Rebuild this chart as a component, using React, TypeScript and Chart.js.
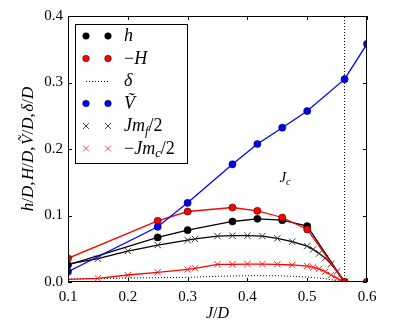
import React, { useEffect, useRef } from "react";
import { Chart, registerables } from "chart.js";

Chart.register(...registerables);

// ---- data ----
const X_TICKS = [0.1, 0.2, 0.3, 0.4, 0.5, 0.6];
const Y_TICKS = [0.0, 0.1, 0.2, 0.3, 0.4];

const J_DOT = [0.1, 0.25, 0.3, 0.375, 0.4167, 0.4583, 0.5, 0.5625, 0.6];
const H_SMALL = [0.0256, 0.067, 0.078, 0.091, 0.095, 0.093, 0.084, 0, 0];
const H_MINUS = [0.0356, 0.092, 0.106, 0.112, 0.107, 0.097, 0.079, 0, 0];
const V_TILDE = [0.0155, 0.083, 0.119, 0.177, 0.2075, 0.232, 0.257, 0.305, 0.358];

const J_M = [0.1, 0.15, 0.2, 0.25, 0.3, 0.3125, 0.35, 0.375, 0.4, 0.425, 0.45, 0.475, 0.5, 0.51, 0.52, 0.53, 0.54, 0.55, 0.5625, 0.6];
const JM_F = [0.027, 0.035, 0.0466, 0.0556, 0.063, 0.0647, 0.069, 0.0696, 0.0696, 0.069, 0.0657, 0.0606, 0.054, 0.049, 0.043, 0.036, 0.027, 0.016, 0, 0];
const JM_C = [0.004, 0.0055, 0.0105, 0.0146, 0.019, 0.0206, 0.0266, 0.0266, 0.027, 0.027, 0.0266, 0.0256, 0.024, 0.022, 0.0196, 0.0155, 0.0105, 0.0055, 0, 0];

const J_DELTA = [0.1, 0.15, 0.2, 0.25, 0.3, 0.35, 0.4, 0.45, 0.5, 0.53, 0.5625, 0.6];
const DELTA = [0.0045, 0.005, 0.006, 0.0065, 0.007, 0.0085, 0.0095, 0.0095, 0.0075, 0.005, 0, 0];

const JC = 0.5625;
const JC_LABEL_AT = [0.463, 0.158];

const FAMILY = '"Liberation Serif", "DejaVu Serif", serif';

type Run = { t: string; it?: boolean; sub?: boolean; gap?: number };

function runFont(r: Run, size: number) {
  return `${r.it ? "italic " : ""}${r.sub ? Math.round(size * 0.7 * 10) / 10 : size}px ${FAMILY}`;
}

function runsWidth(ctx: CanvasRenderingContext2D, runs: Run[], size: number) {
  let total = 0;
  for (const r of runs) {
    ctx.font = runFont(r, size);
    total += ctx.measureText(r.t).width + (r.gap || 0);
  }
  return total;
}

function fitSize(ctx: CanvasRenderingContext2D, runs: Run[], target: number, base: number, maxSize: number) {
  const w = runsWidth(ctx, runs, base);
  return Math.min(maxSize, (base * target) / w);
}

function drawRuns(ctx: CanvasRenderingContext2D, runs: Run[], x: number, y: number, size: number, align: "left" | "center") {
  const total = runsWidth(ctx, runs, size);
  let cx = align === "center" ? x - total / 2 : x;
  ctx.textAlign = "left";
  ctx.textBaseline = "alphabetic";
  for (const r of runs) {
    ctx.font = runFont(r, size);
    ctx.fillText(r.t, cx, r.sub ? y + size * 0.22 : y);
    cx += ctx.measureText(r.t).width + (r.gap || 0);
  }
}

const pts = (xs: number[], ys: number[]) => xs.map((x, i) => ({ x, y: ys[i] }));

const decor = {
  id: "decor",
  afterDraw(chart: any) {
    const ctx: CanvasRenderingContext2D = chart.ctx;
    const { left, right, top, bottom } = chart.chartArea;
    const xs = chart.scales.x;
    const ys = chart.scales.y;
    ctx.save();
    // frame
    ctx.strokeStyle = "#000";
    ctx.lineWidth = 1;
    ctx.strokeRect(left + 0.5, top + 0.5, right - left - 1, bottom - top - 1);
    // inward ticks
    const tl = 4;
    ctx.beginPath();
    for (const v of X_TICKS) {
      const p = Math.round(xs.getPixelForValue(v)) + 0.5;
      ctx.moveTo(p, bottom);
      ctx.lineTo(p, bottom - tl);
      ctx.moveTo(p, top);
      ctx.lineTo(p, top + tl);
    }
    for (const v of Y_TICKS) {
      const p = Math.round(ys.getPixelForValue(v)) + 0.5;
      ctx.moveTo(left, p);
      ctx.lineTo(left + tl, p);
      ctx.moveTo(right, p);
      ctx.lineTo(right - tl, p);
    }
    ctx.stroke();

    ctx.fillStyle = "#000";
    // x title
    drawRuns(ctx, [{ t: "J", it: true }, { t: "/" }, { t: "D", it: true }], (left + right) / 2, 318, 16, "center");
    // y title
    const yRuns: Run[] = [
      { t: "h", it: true }, { t: "/" }, { t: "D", it: true }, { t: ",", gap: 1.5 },
      { t: "H", it: true }, { t: "/" }, { t: "D", it: true }, { t: ",", gap: 1.5 },
      { t: "Ṽ", it: true }, { t: "/" }, { t: "D", it: true }, { t: ",", gap: 1.5 },
      { t: "δ", it: true }, { t: "/" }, { t: "D", it: true },
    ];
    const ySize = fitSize(ctx, yRuns, 140, 16, 17);
    ctx.save();
    ctx.translate(33, (top + bottom) / 2);
    ctx.rotate(-Math.PI / 2);
    drawRuns(ctx, yRuns, 0, 0, ySize, "center");
    ctx.restore();

    // Jc label
    drawRuns(
      ctx,
      [{ t: "J", it: true }, { t: "c", it: true, sub: true }],
      xs.getPixelForValue(JC_LABEL_AT[0]),
      ys.getPixelForValue(JC_LABEL_AT[1]) + 5,
      15,
      "center"
    );

    // legend
    const bx = 75.5, by = 24.5, bw = 112, bh = 139;
    ctx.fillStyle = "#fff";
    ctx.fillRect(bx, by, bw, bh);
    ctx.strokeStyle = "#000";
    ctx.lineWidth = 1;
    ctx.strokeRect(bx, by, bw, bh);
    const rows: { kind: string; color: string; runs: Run[] }[] = [
      { kind: "dot", color: "#000000", runs: [{ t: "h", it: true }] },
      { kind: "dot", color: "#ff0000", runs: [{ t: "−" }, { t: "H", it: true }] },
      { kind: "dash", color: "#000000", runs: [{ t: "δ", it: true }] },
      { kind: "dot", color: "#0000ff", runs: [{ t: "Ṽ", it: true }] },
      { kind: "x", color: "#000000", runs: [{ t: "Jm", it: true }, { t: "f", it: true, sub: true }, { t: "/2" }] },
      { kind: "x", color: "#ff0000", runs: [{ t: "−" }, { t: "Jm", it: true }, { t: "c", it: true, sub: true }, { t: "/2" }] },
    ];
    const lSize = fitSize(ctx, rows[5].runs, 56, 16, 18);
    const m1 = 86, m2 = 108, tx = 124;
    rows.forEach((row, i) => {
      const cy = 36 + i * 22.5;
      if (row.kind === "dot") {
        for (const mx of [m1, m2]) {
          ctx.beginPath();
          ctx.arc(mx, cy, 3.3, 0, Math.PI * 2);
          ctx.fillStyle = row.color;
          ctx.fill();
          ctx.lineWidth = 0.5;
          ctx.strokeStyle = "#000";
          ctx.stroke();
        }
      } else if (row.kind === "x") {
        ctx.strokeStyle = row.color === "#000000" ? "#333" : "#ff3030";
        ctx.lineWidth = 0.9;
        for (const mx of [m1, m2]) {
          const r = 3;
          ctx.beginPath();
          ctx.moveTo(mx - r, cy - r);
          ctx.lineTo(mx + r, cy + r);
          ctx.moveTo(mx - r, cy + r);
          ctx.lineTo(mx + r, cy - r);
          ctx.stroke();
        }
      } else {
        ctx.strokeStyle = "#000";
        ctx.lineWidth = 1;
        ctx.setLineDash([1, 2]);
        ctx.beginPath();
        ctx.moveTo(m1, cy + 0.5);
        ctx.lineTo(m2, cy + 0.5);
        ctx.stroke();
        ctx.setLineDash([]);
      }
      ctx.fillStyle = "#000";
      drawRuns(ctx, row.runs, tx, cy + 5, lSize, "left");
    });
    ctx.restore();
  },
};

export default function App() {
  const ref = useRef<HTMLCanvasElement | null>(null);
  useEffect(() => {
    if (!ref.current) return;
    const hideFirst = (n: number, r: number) => Array.from({ length: n }, (_, i) => (i === 0 ? 0 : r));
    const chart = new Chart(ref.current, {
      type: "line",
      data: {
        datasets: [
          {
            label: "V",
            data: pts(J_DOT, V_TILDE),
            borderColor: "#0000ff",
            backgroundColor: "#0000ff",
            pointBackgroundColor: "#0000ff",
            pointBorderColor: "#000",
            pointBorderWidth: 0.5,
            pointRadius: 3.6,
            borderWidth: 1.3,
            order: 0,
            clip: 0,
          },
          {
            label: "-H",
            data: pts(J_DOT, H_MINUS),
            borderColor: "#ff0000",
            backgroundColor: "#ff0000",
            pointBackgroundColor: "#ff0000",
            pointBorderColor: "#000",
            pointBorderWidth: 0.5,
            pointRadius: 3.6,
            borderWidth: 1.3,
            order: 1,
            clip: 0,
          },
          {
            label: "h",
            data: pts(J_DOT, H_SMALL),
            borderColor: "#000",
            backgroundColor: "#000",
            pointBackgroundColor: "#000",
            pointBorderColor: "#000",
            pointBorderWidth: 0.5,
            pointRadius: 3.6,
            borderWidth: 1.3,
            order: 2,
            clip: 0,
          },
          {
            label: "Jmf",
            data: pts(J_M, JM_F),
            borderColor: "#000",
            pointStyle: "crossRot",
            pointBorderColor: "#333",
            pointBorderWidth: 1,
            pointRadius: hideFirst(J_M.length, 4.5),
            borderWidth: 1.3,
            order: 3,
            clip: 0,
          },
          {
            label: "Jmc",
            data: pts(J_M, JM_C),
            borderColor: "#ff0000",
            pointStyle: "crossRot",
            pointBorderColor: "#ff2020",
            pointBorderWidth: 1,
            pointRadius: hideFirst(J_M.length, 4.5),
            borderWidth: 1.3,
            order: 4,
            clip: 0,
          },
          {
            label: "delta",
            data: pts(J_DELTA, DELTA),
            borderColor: "#000",
            borderDash: [1, 2],
            borderWidth: 1,
            pointRadius: 0,
            order: 5,
            clip: 0,
          },
          {
            label: "Jc",
            data: [
              { x: JC, y: Y_TICKS[0] },
              { x: JC, y: Y_TICKS[Y_TICKS.length - 1] },
            ],
            borderColor: "#000",
            borderDash: [1, 2],
            borderWidth: 1,
            pointRadius: 0,
            order: 6,
            clip: 0,
          },
        ],
      },
      options: {
        animation: false,
        responsive: false,
        events: [],
        elements: { line: { tension: 0 } },
        layout: { padding: { left: 0, right: 32, top: 16, bottom: 0 } },
        plugins: { legend: { display: false }, tooltip: { enabled: false } },
        scales: {
          x: {
            type: "linear",
            min: X_TICKS[0],
            max: X_TICKS[X_TICKS.length - 1],
            afterBuildTicks: (s: any) => {
              s.ticks = X_TICKS.map((v) => ({ value: v }));
            },
            afterFit: (s: any) => {
              s.height = 47;
            },
            grid: { display: false, drawTicks: false },
            border: { display: false },
            ticks: {
              padding: 6,
              color: "#000",
              maxRotation: 0,
              autoSkip: false,
              font: { family: FAMILY, size: 15 },
              callback: (v: any) => Number(v).toFixed(1),
            },
          },
          y: {
            type: "linear",
            min: Y_TICKS[0],
            max: Y_TICKS[Y_TICKS.length - 1],
            afterBuildTicks: (s: any) => {
              s.ticks = Y_TICKS.map((v) => ({ value: v }));
            },
            afterFit: (s: any) => {
              s.width = 68;
            },
            grid: { display: false, drawTicks: false },
            border: { display: false },
            ticks: {
              padding: 5,
              color: "#000",
              autoSkip: false,
              font: { family: FAMILY, size: 15 },
              callback: (v: any) => Number(v).toFixed(1),
            },
          },
        },
      },
      plugins: [decor],
    } as any);
    return () => chart.destroy();
  }, []);
  return (
    <div style={{ position: "fixed", left: 0, top: 0, width: 399, height: 329, background: "#fff" }}>
      <canvas ref={ref} width={399} height={329} style={{ display: "block" }} />
    </div>
  );
}
